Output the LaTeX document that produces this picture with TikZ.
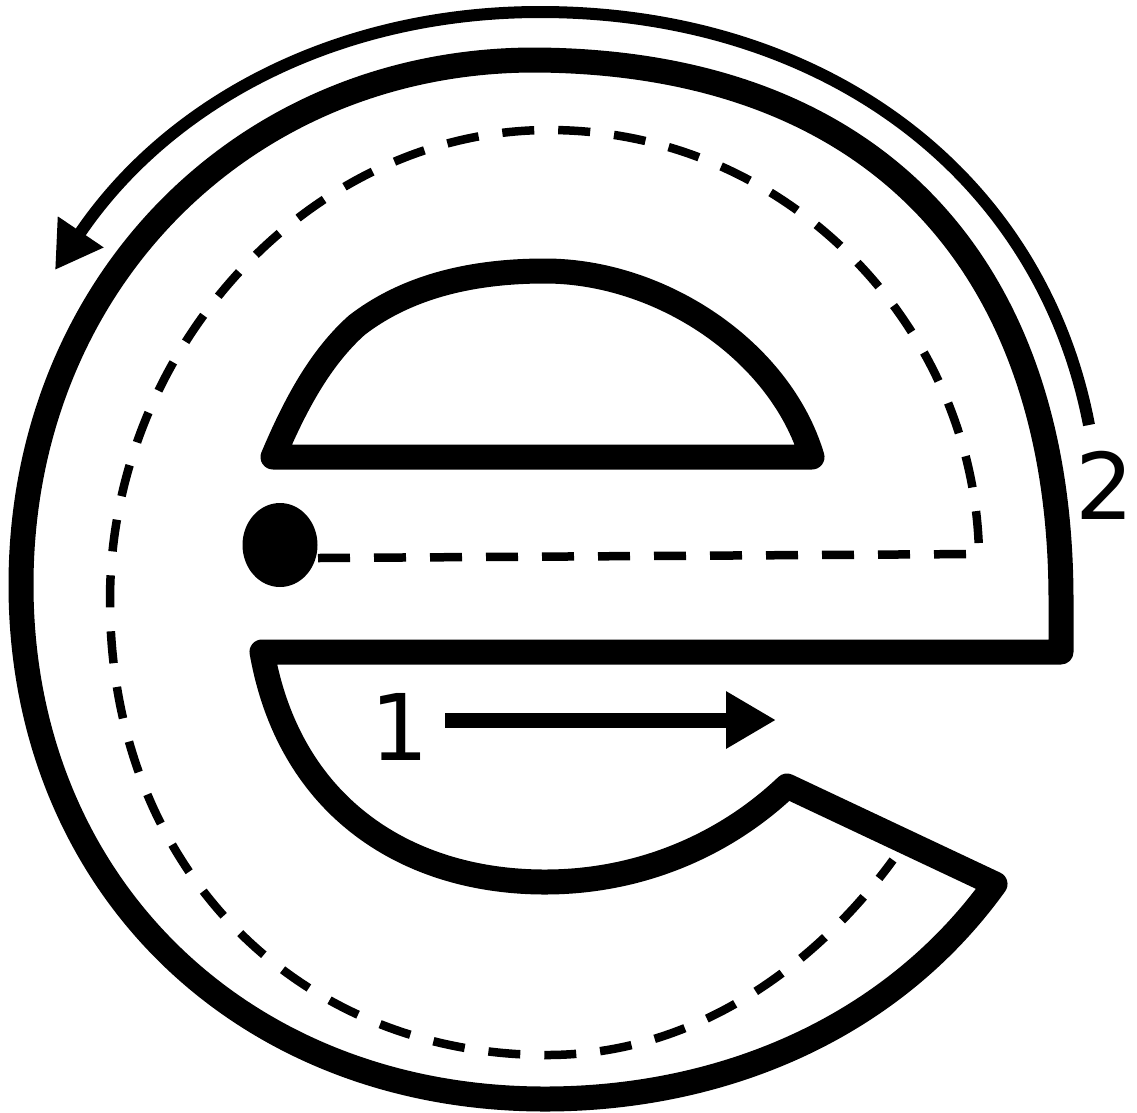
\documentclass[tikz,border=0pt]{standalone}
\usepackage{fontspec}
\setmainfont{DejaVu Sans}
\usetikzlibrary{arrows.meta,shapes.geometric}
\begin{document}
\begin{tikzpicture}[x=1pt,y=-1pt,
  letter/.style={line width=25pt,line join=round,line cap=round},
  guide/.style={line width=8.5pt,dash pattern=on 32pt off 24pt},
  numlabel/.style={font=\fontsize{92}{92}\selectfont,inner sep=0pt}]
\useasboundingbox (0,0) rectangle (1137,1112);
% outer outline of the letter e
\draw[letter] (1061,652) -- (262,652)
  .. controls (290,810) and (410,882) .. (545,882)
  .. controls (640,882) and (725,845) .. (787,786)
  -- (995,884)
  .. controls (890,1030) and (720,1099) .. (545,1099)
  .. controls (241,1099) and (21,883) .. (21,585)
  .. controls (21,286) and (242,60) .. (535,60)
  .. controls (880,62) and (1061,270) .. (1061,600)
  -- cycle;
% counter
\draw[letter] (273,457) -- (812,457)
  .. controls (780,350) and (660,271) .. (545,271)
  .. controls (460,271) and (400,292) .. (357,325)
  .. controls (320,358) and (295,405) .. (273,457)
  -- cycle;
% start dot
\node[ellipse,fill,minimum width=75pt,minimum height=84pt,inner sep=0pt] (dot) at (280,545) {};
\coordinate (gstart) at (318,558);
\coordinate (gcorner) at (979,554);
\coordinate (gend) at (893,860);
% dashed guide path
\draw[guide] (gstart) -- (gcorner)
  .. controls (975,330) and (790,130) .. (549,130)
  .. controls (310,130) and (110,350) .. (110,600)
  .. controls (110,870) and (300,1055) .. (547,1055)
  .. controls (700,1055) and (820,960) .. (gend);
% arrow 1
\coordinate (a1s) at (445,720);
\coordinate (a1e) at (776,720);
\draw[line width=15pt,-{Triangle[length=50pt,width=54pt]}] (a1s) -- (a1e);
\node[numlabel] (lab1) at (400,727) {1};
% arrow 2
\coordinate (a2s) at (1089,425);
\coordinate (a2e) at (55,270);
\draw[line width=12pt,-{Triangle[length=46pt,width=52pt]}] (a2s)
  .. controls (1040,170) and (820,12) .. (540,12)
  .. controls (340,12) and (170,100) .. (a2e);
\node[numlabel] (lab2) at (1105,485) {2};
\end{tikzpicture}
\end{document}
